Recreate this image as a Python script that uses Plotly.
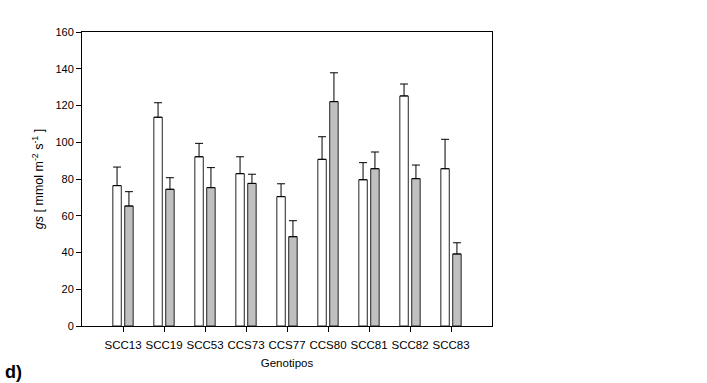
import plotly.graph_objects as go

# Stomatal conductance per genotype, two treatments (white / grey bars)
genotipos = ["SCC13", "SCC19", "SCC53", "CCS73", "CCS77", "CCS80", "SCC81", "SCC82", "SCC83"]
gs_blanco = [76.4, 113.6, 92.1, 82.9, 70.4, 90.7, 79.6, 125.2, 85.6]
err_blanco = [10.1, 7.9, 7.3, 9.2, 7.0, 12.3, 9.3, 6.5, 16.0]
gs_gris = [65.3, 74.4, 75.3, 77.6, 48.6, 122.1, 85.6, 80.2, 39.2]
err_gris = [7.8, 6.3, 10.9, 5.0, 8.7, 15.7, 9.1, 7.4, 6.1]
y_ticks = [0, 20, 40, 60, 80, 100, 120, 140, 160]

familia = "Liberation Sans, Arial, sans-serif"
font = dict(family=familia, size=11.5, color="#000000")

def serie(valores, errores, relleno):
    return go.Bar(
        x=genotipos,
        y=valores,
        marker=dict(color=relleno, line=dict(color="#222", width=1)),
        error_y=dict(type="data", symmetric=False, array=errores,
                     arrayminus=[0] * len(errores),
                     color="#000", thickness=1, width=4),
        showlegend=False,
    )

fig = go.Figure([serie(gs_blanco, err_blanco, "#ffffff"),
                 serie(gs_gris, err_gris, "#c0c0c0")])

fig.update_layout(
    width=707, height=383,
    margin=dict(l=82, r=215, t=32, b=57),
    paper_bgcolor="#fff", plot_bgcolor="#fff",
    barmode="group", bargap=0.42, bargroupgap=0.29,
    font=font,
)

fig.update_xaxes(
    range=[-1, 9], showgrid=False, zeroline=False,
    showline=True, linecolor="#000", linewidth=1, mirror=True,
    ticks="outside", ticklen=5, tickcolor="#000", tickwidth=1,
    tickfont=font, ticklabelstandoff=3,
    title=dict(text="Genotipos", font=font, standoff=9),
)
fig.update_yaxes(
    range=[0, 160], tickvals=y_ticks, showgrid=False, zeroline=False,
    showline=True, linecolor="#000", linewidth=1, mirror=True,
    ticks="outside", ticklen=5, tickcolor="#000", tickwidth=1,
    tickfont=dict(family=familia, size=11, color="#000000"),
)

fig.add_annotation(
    text="<i>gs</i> [ mmol m<sup>-2</sup> s<sup>-1</sup> ]",
    xref="paper", yref="paper", x=-0.107, y=0.5,
    xanchor="center", yanchor="middle", textangle=-90,
    showarrow=False, font=dict(family=familia, size=12.5, color="#000000"),
)
fig.add_annotation(
    text="<b>d)</b>",
    xref="paper", yref="paper", x=-0.192, y=-0.155,
    xanchor="left", yanchor="middle",
    showarrow=False, font=dict(family=familia, size=18, color="#000000"),
)

fig.write_html("out.html")
